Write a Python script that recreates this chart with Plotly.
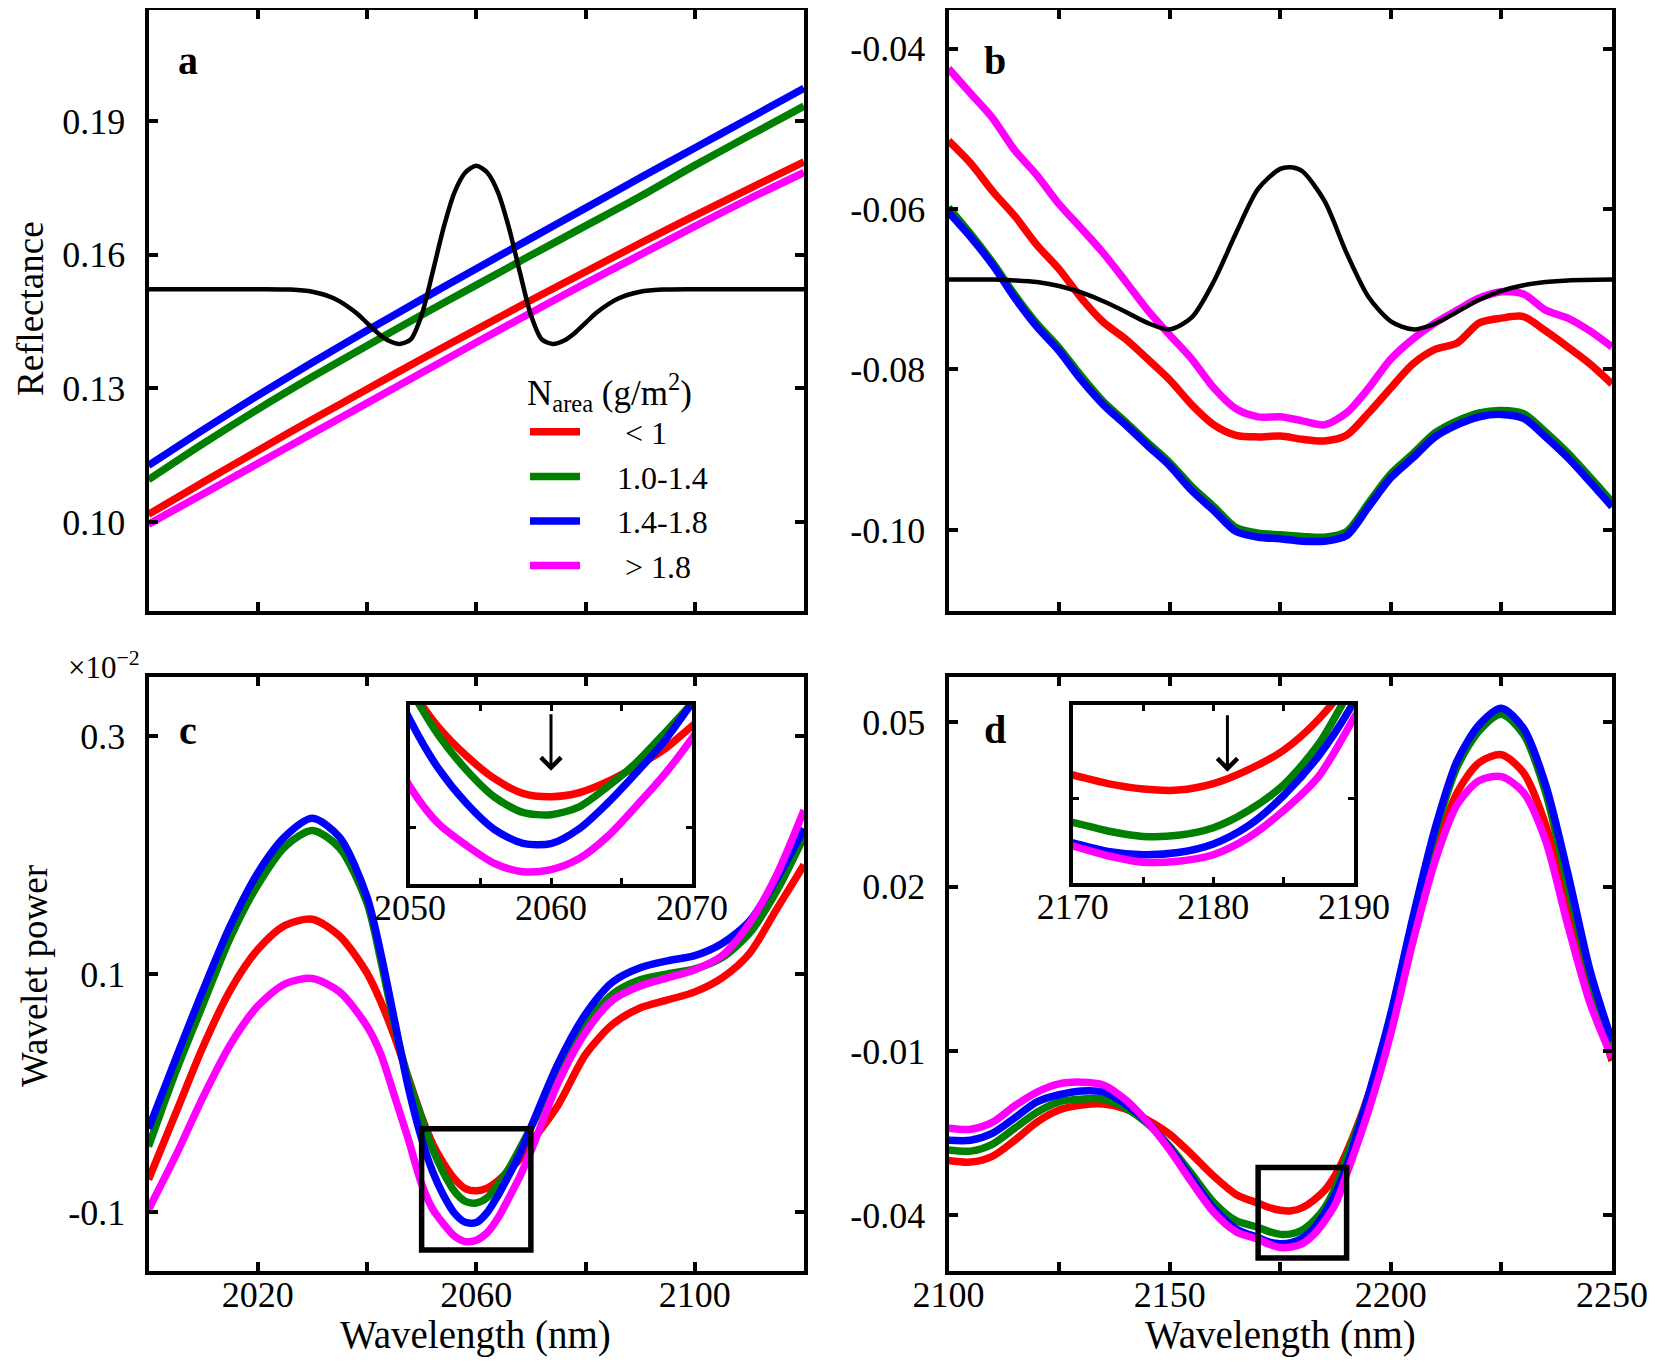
import plotly.graph_objects as go

FONT = "Liberation Serif, Times New Roman, serif"

# ---------------- data ----------------
NB = "\u00a0"
SERIES_LABELS = [NB * 5 + "< 1", NB * 4 + "1.0-1.4", NB * 4 + "1.4-1.8", NB * 5 + "> 1.8"]
COLORS = ["#ff0000", "#007f00", "#0000ff", "#ff00ff"]

# Panel a : reflectance
WL_A = [2000, 2010, 2020, 2030, 2040, 2050, 2060, 2070, 2080, 2090, 2100, 2110, 2120]
A_LT1 = [0.1017, 0.1089, 0.1160, 0.1230, 0.1298, 0.1366, 0.1432, 0.1498, 0.1562, 0.1626, 0.1688, 0.1749, 0.1809]
A_10_14 = [0.1095, 0.1176, 0.1253, 0.1326, 0.1396, 0.1465, 0.1532, 0.1599, 0.1665, 0.1731, 0.1801, 0.1868, 0.1934]
A_14_18 = [0.1127, 0.1207, 0.1284, 0.1358, 0.1430, 0.1500, 0.1569, 0.1637, 0.1705, 0.1773, 0.1840, 0.1907, 0.1974]
A_GT18 = [0.0995, 0.1063, 0.1131, 0.1199, 0.1267, 0.1335, 0.1403, 0.1470, 0.1536, 0.1600, 0.1664, 0.1726, 0.1785]

WL_A_WAVELET = [2000, 2020, 2026, 2030, 2034, 2038, 2040, 2042, 2044, 2046, 2048, 2050, 2052, 2054,
                2056, 2058, 2060, 2062, 2064, 2066, 2068, 2070, 2072, 2074, 2076, 2078, 2080, 2082,
                2086, 2090, 2094, 2100, 2120]
A_WAVELET = [0.1523, 0.1523, 0.1522, 0.1517, 0.1502, 0.1470, 0.1447, 0.1424, 0.1407, 0.1400, 0.1410,
             0.1465, 0.1560, 0.1660, 0.1740, 0.1785, 0.1800, 0.1785, 0.1740, 0.1660, 0.1560, 0.1465,
             0.1410, 0.1400, 0.1407, 0.1424, 0.1447, 0.1470, 0.1502, 0.1517, 0.1522, 0.1523, 0.1523]

# Panel b
WL_B = [2100, 2105, 2110, 2115, 2120, 2125, 2130, 2135, 2140, 2145, 2150, 2155, 2160, 2165, 2170, 2175,
        2180, 2185, 2190, 2195, 2200, 2205, 2210, 2215, 2220, 2225, 2230, 2235, 2240, 2245, 2250]
B_LT1 = [-0.0515, -0.0543, -0.0578, -0.0609, -0.0645, -0.0675, -0.0711, -0.0741, -0.0762, -0.0787, -0.0813,
         -0.0844, -0.0869, -0.0882, -0.0884, -0.0883, -0.0887, -0.0889, -0.0882, -0.0854, -0.0823, -0.0793,
         -0.0775, -0.0767, -0.0742, -0.0736, -0.0734, -0.0752, -0.0772, -0.0793, -0.0818]
B_10_14 = [-0.0598, -0.0631, -0.0667, -0.0707, -0.0743, -0.0773, -0.0808, -0.0840, -0.0865, -0.0891, -0.0916,
           -0.0946, -0.0971, -0.0997, -0.1004, -0.1006, -0.1008, -0.1009, -0.1002, -0.0966, -0.0930, -0.0905,
           -0.0879, -0.0864, -0.0854, -0.0851, -0.0855, -0.0878, -0.0904, -0.0934, -0.0965]
B_14_18 = [-0.0604, -0.0635, -0.0670, -0.0711, -0.0747, -0.0777, -0.0813, -0.0844, -0.0869, -0.0895, -0.0920,
           -0.0951, -0.0976, -0.1002, -0.1009, -0.1011, -0.1014, -0.1014, -0.1007, -0.0971, -0.0935, -0.0910,
           -0.0884, -0.0869, -0.0859, -0.0856, -0.0861, -0.0884, -0.0910, -0.0940, -0.0971]
B_GT18 = [-0.0425, -0.0456, -0.0487, -0.0527, -0.0558, -0.0594, -0.0624, -0.0655, -0.0690, -0.0726, -0.0757,
          -0.0787, -0.0823, -0.0849, -0.0859, -0.0859, -0.0864, -0.0869, -0.0854, -0.0823, -0.0787, -0.0762,
          -0.0742, -0.0726, -0.0711, -0.0703, -0.0706, -0.0726, -0.0736, -0.0752, -0.0772]

WL_B_WAVELET = [2100, 2110, 2115, 2120, 2125, 2130, 2135, 2140, 2145, 2150, 2155, 2160, 2165, 2170, 2175,
                2177.5, 2180, 2185, 2190, 2195, 2200, 2205, 2210, 2215, 2220, 2225, 2230, 2235, 2240, 2250]
B_WAVELET = [-0.0688, -0.0688, -0.0689, -0.0691, -0.0696, -0.0704, -0.0715, -0.0728, -0.0742, -0.0750,
             -0.0735, -0.0690, -0.0630, -0.0575, -0.0550, -0.0548, -0.0553, -0.0590, -0.0655, -0.0710,
             -0.0740, -0.0750, -0.0743, -0.0728, -0.0713, -0.0702, -0.0695, -0.0691, -0.0689, -0.0688]

# Panel c : wavelet power (x 10^-2)
WL_C = [2000, 2005, 2010, 2015, 2020, 2025, 2030, 2035, 2040, 2042.5, 2045, 2047.5, 2050, 2052, 2054, 2056,
        2058, 2060, 2062, 2064, 2066, 2068, 2070, 2075, 2080, 2085, 2090, 2095, 2100, 2105, 2110, 2115, 2120]
C_LT1 = [-0.0728, -0.0168, 0.0392, 0.0868, 0.1207, 0.1411, 0.1462, 0.1320, 0.1010, 0.0770, 0.0480, 0.0140,
         -0.0200, -0.0425, -0.0590, -0.0720, -0.0804, -0.0823, -0.0800, -0.0737, -0.0652, -0.0555, -0.0420,
         -0.0100, 0.0324, 0.0579, 0.0715, 0.0783, 0.0851, 0.0969, 0.1173, 0.1547, 0.1920]
C_10_14 = [-0.0450, 0.0180, 0.0749, 0.1309, 0.1750, 0.2073, 0.2209, 0.2060, 0.1600, 0.1120, 0.0580, 0.0130,
           -0.0210, -0.0470, -0.0670, -0.0825, -0.0912, -0.0925, -0.0880, -0.0766, -0.0632, -0.0465, -0.0290,
           0.0160, 0.0579, 0.0834, 0.0952, 0.1003, 0.1044, 0.1139, 0.1343, 0.1700, 0.2158]
C_14_18 = [-0.0300, 0.0290, 0.0868, 0.1410, 0.1852, 0.2158, 0.2311, 0.2150, 0.1650, 0.1180, 0.0620, 0.0060,
           -0.0385, -0.0660, -0.0860, -0.1010, -0.1088, -0.1090, -0.1005, -0.0860, -0.0690, -0.0510, -0.0290,
           0.0250, 0.0664, 0.0935, 0.1054, 0.1112, 0.1156, 0.1258, 0.1445, 0.1801, 0.2226]
C_GT18 = [-0.0980, -0.0525, -0.0032, 0.0409, 0.0732, 0.0919, 0.0963, 0.0850, 0.0562, 0.0330, -0.0020, -0.0380,
          -0.0766, -0.0975, -0.1100, -0.1203, -0.1250, -0.1238, -0.1175, -0.1050, -0.0880, -0.0700, -0.0490,
          0.0087, 0.0511, 0.0783, 0.0901, 0.0969, 0.1037, 0.1156, 0.1428, 0.1835, 0.2379]

# Panel d
WL_D = [2100, 2105, 2110, 2115, 2120, 2125, 2130, 2135, 2140, 2145, 2150, 2155, 2160, 2165, 2170, 2172.5,
        2175, 2177.5, 2180, 2182.5, 2185, 2187.5, 2190, 2195, 2200, 2205, 2210, 2215, 2220, 2225, 2230,
        2235, 2240, 2245, 2250]
D_LT1 = [-0.0300, -0.0303, -0.0292, -0.0263, -0.0230, -0.0208, -0.0199, -0.0197, -0.0206, -0.0226, -0.0252,
         -0.0289, -0.0329, -0.0362, -0.0378, -0.0386, -0.0391, -0.0392, -0.0386, -0.0373, -0.0355, -0.0326,
         -0.0285, -0.0179, -0.0039, 0.0115, 0.0262, 0.0372, 0.0427, 0.0441, 0.0408, 0.0313, 0.0159, 0.0012,
         -0.0118]
D_10_14 = [-0.0281, -0.0283, -0.0270, -0.0241, -0.0212, -0.0193, -0.0188, -0.0188, -0.0204, -0.0233, -0.0274,
           -0.0325, -0.0377, -0.0410, -0.0422, -0.0430, -0.0435, -0.0434, -0.0427, -0.0411, -0.0387, -0.0349,
           -0.0293, -0.0183, -0.0035, 0.0140, 0.0298, 0.0419, 0.0485, 0.0515, 0.0478, 0.0372, 0.0203, 0.0038,
           -0.0100]
D_14_18 = [-0.0263, -0.0263, -0.0250, -0.0222, -0.0193, -0.0180, -0.0173, -0.0175, -0.0197, -0.0230, -0.0278,
           -0.0333, -0.0388, -0.0425, -0.0441, -0.0449, -0.0452, -0.0450, -0.0442, -0.0425, -0.0397, -0.0360,
           -0.0310, -0.0179, -0.0032, 0.0144, 0.0306, 0.0430, 0.0496, 0.0526, 0.0489, 0.0386, 0.0225, 0.0048,
           -0.0082]
D_GT18 = [-0.0241, -0.0243, -0.0230, -0.0200, -0.0175, -0.0160, -0.0157, -0.0162, -0.0189, -0.0230, -0.0281,
          -0.0340, -0.0395, -0.0430, -0.0444, -0.0453, -0.0459, -0.0458, -0.0452, -0.0436, -0.0411, -0.0379,
          -0.0325, -0.0208, -0.0068, 0.0100, 0.0247, 0.0350, 0.0394, 0.0401, 0.0372, 0.0284, 0.0130, -0.0012,
          -0.0112]

# tick labels
A_YTICKS = [0.10, 0.13, 0.16, 0.19]
A_YTEXT = ["0.10", "0.13", "0.16", "0.19"]
B_YTICKS = [-0.10, -0.08, -0.06, -0.04]
B_YTEXT = ["-0.10", "-0.08", "-0.06", "-0.04"]
C_YTICKS = [-0.1, 0.1, 0.3]
C_YTEXT = ["-0.1", "0.1", "0.3"]
D_YTICKS = [-0.04, -0.01, 0.02, 0.05]
D_YTEXT = ["-0.04", "-0.01", "0.02", "0.05"]
C_XTICKS = [2020, 2060, 2100]
C_XMINOR = [2040, 2080]
D_XTICKS = [2100, 2150, 2200, 2250]
D_XMINOR = [2125, 2175, 2225]
CI_XTICKS = [2050, 2060, 2070]
CI_XMINOR = [2055, 2065]
DI_XTICKS = [2170, 2180, 2190]
DI_XMINOR = [2175, 2185]

# inset windows
CI_XRANGE = [2050, 2070]
CI_YRANGE = [-0.132, -0.030]
DI_XRANGE = [2170, 2190]
DI_YRANGE = [-0.0478, -0.0313]

# ---------------- layout helpers ----------------
SHIFT = 8                      # page body margin
FIG_W, FIG_H = 1655 - SHIFT, 1367 - SHIFT


def px_x(x):
    return (x - SHIFT) / FIG_W


def px_y(y):
    return 1 - (y - SHIFT) / FIG_H


fig = go.Figure()


def add(x, y, color, xa, ya, width, name=None, legend=False, shape="spline"):
    fig.add_trace(go.Scatter(x=x, y=y, mode="lines", name=name, showlegend=legend,
                             line=dict(color=color, width=width, shape=shape, smoothing=0.8),
                             xaxis=xa, yaxis=ya, hoverinfo="skip"))


A_SERIES = [A_LT1, A_10_14, A_14_18, A_GT18]
B_SERIES = [B_LT1, B_10_14, B_14_18, B_GT18]
C_SERIES = [C_LT1, C_10_14, C_14_18, C_GT18]
D_SERIES = [D_LT1, D_10_14, D_14_18, D_GT18]

LW = 7.5
for s, c, lab in zip(A_SERIES, COLORS, SERIES_LABELS):
    add(WL_A, s, c, "x", "y", LW, name=lab, legend=True)
add(WL_A_WAVELET, A_WAVELET, "black", "x", "y", 4.5)

for s, c in zip(B_SERIES, COLORS):
    add(WL_B, s, c, "x2", "y2", LW)
add(WL_B_WAVELET, B_WAVELET, "black", "x2", "y2", 4.5)

for s, c in zip(C_SERIES, COLORS):
    add(WL_C, s, c, "x3", "y3", LW)
for s, c in zip(D_SERIES, COLORS):
    add(WL_D, s, c, "x4", "y4", LW)
for s, c in zip(C_SERIES, COLORS):
    add(WL_C, s, c, "x5", "y5", LW)
for s, c in zip(D_SERIES, COLORS):
    add(WL_D, s, c, "x6", "y6", LW)

TICKFONT = dict(family=FONT, size=36, color="black")


def ax(domain, rng, anchor, tickvals, ticktext=None, minor=None, labels=True, lw=4, tl=9, tw=4,
       standoff=12):
    d = dict(domain=domain, range=rng, anchor=anchor, showline=True, linecolor="black", linewidth=lw,
             mirror="ticks", ticks="inside", ticklen=tl, tickwidth=tw, tickcolor="black",
             showgrid=False, zeroline=False, tickfont=TICKFONT, tickvals=tickvals,
             showticklabels=labels, ticklabelstandoff=standoff, automargin=False)
    if ticktext is not None:
        d["ticktext"] = ticktext
    if minor is not None:
        d["minor"] = dict(tickvals=minor, ticks="inside", ticklen=tl, tickwidth=tw, tickcolor="black",
                          showgrid=False)
    return d


LEFT = [px_x(148.5), px_x(804)]
RIGHT = [px_x(948.5), px_x(1612)]
TOP = [px_y(611), px_y(10)]
BOTTOM = [px_y(1270.5), px_y(677)]
XSO = -11

fig.update_layout(
    width=FIG_W, height=FIG_H, margin=dict(l=0, r=0, t=0, b=0, autoexpand=False),
    paper_bgcolor="white", plot_bgcolor="white",
    font=dict(family=FONT, color="black"),
    xaxis=ax(LEFT, [2000, 2120], "y", [2020, 2040, 2060, 2080, 2100], labels=False),
    yaxis=ax(TOP, [0.080, 0.215], "x", A_YTICKS, A_YTEXT),
    xaxis2=ax(RIGHT, [2100, 2250], "y2", [2125, 2150, 2175, 2200, 2225], labels=False),
    yaxis2=ax(TOP, [-0.1101, -0.0352], "x2", B_YTICKS, B_YTEXT),
    xaxis3=ax(LEFT, [2000, 2120], "y3", C_XTICKS, [str(v) for v in C_XTICKS], minor=C_XMINOR, standoff=XSO),
    yaxis3=ax(BOTTOM, [-0.1493, 0.3500], "x3", C_YTICKS, C_YTEXT),
    xaxis4=ax(RIGHT, [2100, 2250], "y4", D_XTICKS, [str(v) for v in D_XTICKS], minor=D_XMINOR, standoff=XSO),
    yaxis4=ax(BOTTOM, [-0.0501, 0.0583], "x4", D_YTICKS, D_YTEXT),
    xaxis5=ax([px_x(410), px_x(692)], CI_XRANGE, "y5", CI_XTICKS, [str(v) for v in CI_XTICKS],
              minor=CI_XMINOR, tl=6, tw=3, standoff=XSO),
    yaxis5=ax([px_y(884), px_y(705)], CI_YRANGE, "x5", [-0.1], labels=False, tl=6, tw=3),
    xaxis6=ax([px_x(1072.7), px_x(1354)], DI_XRANGE, "y6", DI_XTICKS, [str(v) for v in DI_XTICKS],
              minor=DI_XMINOR, tl=6, tw=3, standoff=XSO),
    yaxis6=ax([px_y(882.7), px_y(705)], DI_YRANGE, "x6", [-0.04], labels=False, tl=6, tw=3),
    legend=dict(x=px_x(525), y=px_y(359), xanchor="left", yanchor="top", bgcolor="rgba(0,0,0,0)",
                font=dict(family=FONT, size=32, color="black"), tracegroupgap=0, itemwidth=50,
                title=dict(text="N<sub>area</sub> (g/m<sup>2</sup>)", font=dict(family=FONT, size=35))),
    shapes=[
        dict(type="rect", xref="x3", yref="y3", x0=CI_XRANGE[0], x1=CI_XRANGE[1], y0=CI_YRANGE[0],
             y1=CI_YRANGE[1], line=dict(color="black", width=5.5), layer="above"),
        dict(type="rect", xref="x4", yref="y4", x0=DI_XRANGE[0], x1=DI_XRANGE[1], y0=DI_YRANGE[0],
             y1=DI_YRANGE[1], line=dict(color="black", width=5.5), layer="above"),
    ],
)


def text_ann(text, x, y, size, angle=0, bold=False, xanchor="center"):
    return dict(text="<b>%s</b>" % text if bold else text, x=px_x(x), y=px_y(y), xref="paper",
                yref="paper", showarrow=False, xanchor=xanchor, yanchor="middle", textangle=angle,
                font=dict(family=FONT, size=size, color="black"))


ann = [
    text_ann("a", 188, 60, 40, bold=True),
    text_ann("b", 995, 60, 40, bold=True),
    text_ann("c", 188, 730, 40, bold=True),
    text_ann("d", 995, 729, 40, bold=True),
    text_ann("Reflectance", 31, 309, 37, angle=-90),
    text_ann("Wavelet power", 34, 976, 37, angle=-90),
    text_ann("Wavelength (nm)", 476, 1335, 39),
    text_ann("Wavelength (nm)", 1280, 1335, 39),
    text_ann("\u00d710<sup>\u22122</sup>", 142, 665, 31, xanchor="right"),
    # arrows inside insets
    dict(x=2060, y=0.633, xref="x5", yref="y5 domain", ax=0, ay=-58, showarrow=True,
         arrowhead=4, arrowsize=1.3, arrowwidth=3, arrowcolor="black", text=""),
    dict(x=2181, y=0.625, xref="x6", yref="y6 domain", ax=0, ay=-58, showarrow=True,
         arrowhead=4, arrowsize=1.3, arrowwidth=3, arrowcolor="black", text=""),
]
fig.update_layout(annotations=ann)

fig.write_html("out.html")
